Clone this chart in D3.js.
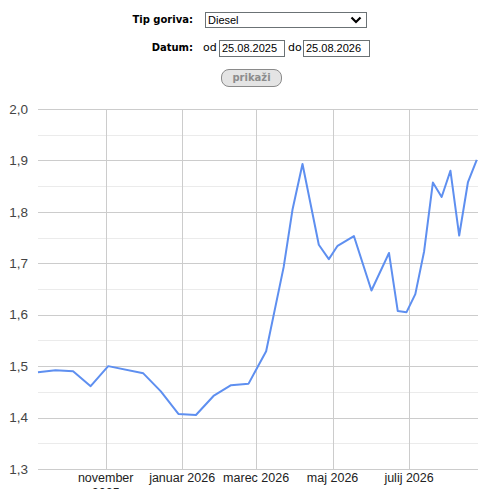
<!DOCTYPE html>
<html>
<head>
<meta charset="utf-8">
<script src="https://cdn.jsdelivr.net/npm/d3@7"></script>
<style>
  body { margin: 0; width: 487px; height: 489px; overflow: hidden; background: #fff; font-family: "DejaVu Sans", Verdana, sans-serif; }
  .lbl { position: absolute; font-weight: bold; font-size: 10px; color: #000; text-align: right; width: 80px; }
  .small { position: absolute; font-size: 11px; color: #000; }
  .box { position: absolute; box-sizing: border-box; border: 1px solid #6b7275; background: #fff;
         font-family: "Liberation Sans", Arial, sans-serif; font-size: 11px; padding: 1px 2px; line-height: 13px; color: #000; }
  .btn { position: absolute; box-sizing: border-box; border: 1px solid #8a8a8a; border-radius: 8px; background: #e4e4e4;
         font-size: 10px; font-weight: bold; color: #8c8c8c; text-align: center; line-height: 15px; }
  #chart { position: absolute; left: 0; top: 0; }
</style>
</head>
<body>
<div class="lbl" style="left:113px;top:14px;">Tip goriva:</div>
<div class="box" style="left:205px;top:12px;width:162px;height:16px;">Diesel
  <svg width="12" height="8" style="position:absolute;right:4px;top:3px"><path d="M1.5,1.5 L6,6 L10.5,1.5" fill="none" stroke="#000" stroke-width="2.2"/></svg>
</div>
<div class="lbl" style="left:113px;top:42px;">Datum:</div>
<div class="small" style="left:203px;top:41px;">od</div>
<div class="box" style="left:219px;top:40px;width:66px;height:17px;">25.08.2025</div>
<div class="small" style="left:288px;top:41px;">do</div>
<div class="box" style="left:303px;top:40px;width:67px;height:17px;">25.08.2026</div>
<div class="btn" style="left:221px;top:69px;width:61px;height:18px;">prikaži</div>

<svg id="chart" width="487" height="520"></svg>

<script>
// cene dizla (EUR/l)
const dates = ["2025-09-08","2025-09-22","2025-10-06","2025-10-20","2025-11-03","2025-12-01","2025-12-15","2025-12-29",
  "2026-01-12","2026-01-26","2026-02-09","2026-02-23","2026-03-09","2026-03-23","2026-03-30","2026-04-07",
  "2026-04-20","2026-04-28","2026-05-05","2026-05-18","2026-06-01","2026-06-15","2026-06-22","2026-06-29",
  "2026-07-06","2026-07-13","2026-07-20","2026-07-27","2026-08-03","2026-08-10","2026-08-17","2026-08-24"];
const prices = [1.488,1.492,1.490,1.461,1.500,1.486,1.451,1.407,
  1.405,1.442,1.463,1.466,1.529,1.693,1.804,1.893,
  1.736,1.708,1.734,1.753,1.647,1.720,1.607,1.605,
  1.640,1.723,1.857,1.829,1.880,1.754,1.858,1.901];
const yTicks = [1.3,1.4,1.5,1.6,1.7,1.8,1.9,2.0];
const monthNames = ["januar","februar","marec","april","maj","junij","julij","avgust","september","oktober","november","december"];

const parse = d3.timeParse("%Y-%m-%d");
const data = dates.map((d, i) => ({date: parse(d), value: prices[i]}));

const plotLeft = 38, plotRight = 478, plotTop = 109, plotBottom = 469;

const x = d3.scaleTime()
    .domain([parse("2025-09-08"), parse("2026-08-25")])
    .range([plotLeft, plotRight]);
const y = d3.scaleLinear()
    .domain([1.3, 2.0])
    .range([plotBottom, plotTop]);

const svg = d3.select("#chart");

// minor horizontal lines
svg.append("g").selectAll("line")
    .data(yTicks.slice(0, -1).map(v => v + 0.05))
    .enter().append("line")
    .attr("x1", plotLeft).attr("x2", plotRight)
    .attr("y1", d => Math.round(y(d)) + 0.5).attr("y2", d => Math.round(y(d)) + 0.5)
    .attr("stroke", "#ebebeb");

const majors = d3.timeMonth.every(2).range(parse("2025-11-01"), parse("2026-08-01"));
const minors = d3.timeMonth.every(2).range(parse("2025-10-01"), parse("2026-08-02"));

// vertical lines
svg.append("g").selectAll("line")
    .data(majors)
    .enter().append("line")
    .attr("x1", d => Math.round(x(d)) + 0.5).attr("x2", d => Math.round(x(d)) + 0.5)
    .attr("y1", plotTop).attr("y2", plotBottom)
    .attr("stroke", "#cccccc");

svg.append("g").selectAll("line")
    .data(minors)
    .enter().append("line")
    .attr("x1", d => Math.round(x(d)) + 0.5).attr("x2", d => Math.round(x(d)) + 0.5)
    .attr("y1", plotBottom - 5).attr("y2", plotBottom)
    .attr("stroke", "#cccccc");

// major horizontal lines
svg.append("g").selectAll("line")
    .data(yTicks)
    .enter().append("line")
    .attr("x1", plotLeft).attr("x2", plotRight)
    .attr("y1", d => Math.round(y(d)) + 0.5).attr("y2", d => Math.round(y(d)) + 0.5)
    .attr("stroke", "#cccccc");

svg.append("g").selectAll("text")
    .data(yTicks)
    .enter().append("text")
    .attr("x", 28)
    .attr("y", d => y(d))
    .attr("dy", "0.35em")
    .attr("text-anchor", "end")
    .attr("font-family", "Liberation Sans, Arial, sans-serif")
    .attr("font-size", "13.5px")
    .attr("fill", "#444")
    .text(d => d.toFixed(1).replace(".", ","));

const xl = svg.append("g").selectAll("text")
    .data(majors)
    .enter().append("text")
    .attr("x", d => x(d))
    .attr("y", 482)
    .attr("text-anchor", "middle")
    .attr("font-family", "Liberation Sans, Arial, sans-serif")
    .attr("font-size", "12.5px")
    .attr("fill", "#222");

// wrap labels wider than the gap
xl.each(function (d) {
    const t = d3.select(this);
    const words = [monthNames[d.getMonth()], String(d.getFullYear())];
    t.text(words.join(" "));
    if (this.getComputedTextLength() > 74) {
        t.text(null);
        t.append("tspan").attr("x", x(d)).text(words[0]);
        t.append("tspan").attr("x", x(d)).attr("dy", 15).text(words[1]);
    }
});

const line = d3.line()
    .x(d => x(d.date))
    .y(d => y(d.value));

svg.append("path")
    .datum(data)
    .attr("d", line)
    .attr("fill", "none")
    .attr("stroke", "#5e8ff0")
    .attr("stroke-width", 2)
    .attr("stroke-linejoin", "round");
</script>
</body>
</html>
